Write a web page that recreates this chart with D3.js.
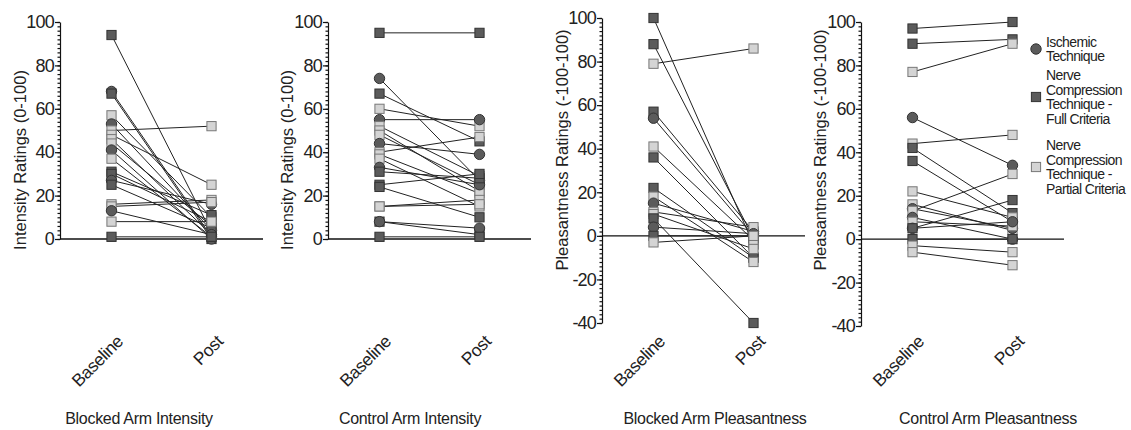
<!DOCTYPE html>
<meta charset="utf-8">
<style>
    body { margin: 0; background: #fff; }
    svg { font-family: "Liberation Sans", Arial, sans-serif; }
    .axis path, .axis line { fill: none; stroke: #111; stroke-width: 1.2; }
    .axis text { font-size: 18px; fill: #222; letter-spacing: -0.8px; }
    .pair { fill: none; stroke: #222; stroke-width: 1; }
</style>
<body>
<script src="https://d3js.org/d3.v7.min.js"></script>
<script>

    // timepoints and groups
    var timepoints = ["Baseline", "Post"];
    var groupNames = ["Ischemic Technique", "Nerve Compression Technique - Full Criteria", "Nerve Compression Technique - Partial Criteria"];

    // I = ischemic, F = full criteria, P = partial criteria
    var blockedIntensityGroup    = ["F","I","F","P","I","P","P","P","P","I","P","F","F","I","F","P","P","I","P","F"];
    var blockedIntensityBaseline = [94, 68, 67, 57, 53, 50, 48, 46, 44, 41, 37, 31, 30, 27, 25, 16, 15, 13, 8, 1];
    var blockedIntensityPost     = [3, 1, 0, 10, 4, 52, 25, 2, 6, 0, 1, 11, 8, 16, 5, 18, 17, 2, 8, 1];

    var controlIntensityGroup    = ["F","I","F","P","I","P","P","P","I","P","P","P","I","F","F","F","P","P","F","I","F"];
    var controlIntensityBaseline = [95, 74, 67, 60, 55, 52, 50, 48, 44, 40, 39, 37, 33, 31, 25, 24, 15, 15, 8, 8, 1];
    var controlIntensityPost     = [95, 27, 45, 52, 55, 29, 22, 25, 39, 47, 21, 15, 25, 28, 30, 10, 18, 16, 2, 5, 1];

    var blockedPleasGroup    = ["F","F","P","F","I","P","F","F","P","I","P","P","F","I","F","P"];
    var blockedPleasBaseline = [100, 88, 79, 57, 54, 41, 36, 22, 18, 15, 11, 10, 8, 4, 0, -3];
    var blockedPleasPost     = [-4, -1, 86, 2, 0, -2, -10, -10, -12, 2, 4, -6, -40, 1, 0, 0];

    var controlPleasGroup    = ["F","F","P","I","P","F","F","P","P","I","P","I","P","I","F","F","P","P"];
    var controlPleasBaseline = [97, 90, 77, 56, 44, 42, 36, 22, 16, 14, 13, 10, 8, 5, 5, 0, -3, -6];
    var controlPleasPost     = [100, 92, 90, 34, 48, 12, 8, 10, 4, 5, 30, 0, 6, 8, 18, 0, -6, -12];

    var intensityTicks = [0, 20, 40, 60, 80, 100];
    var pleasTicks = [-40, -20, 0, 20, 40, 60, 80, 100];

    var panels = [
        {title: "Blocked Arm Intensity", ylabel: "Intensity Ratings (0-100)", group: blockedIntensityGroup,
         base: blockedIntensityBaseline, post: blockedIntensityPost, ticks: intensityTicks,
         ax: 60, yRange: [239, 22], labelX: 20, labelY: 160, titleX: 139},
        {title: "Control Arm Intensity", ylabel: "Intensity Ratings (0-100)", group: controlIntensityGroup,
         base: controlIntensityBaseline, post: controlIntensityPost, ticks: intensityTicks,
         ax: 328, yRange: [239, 22], labelX: 287, labelY: 160, titleX: 410},
        {title: "Blocked Arm Pleasantness", ylabel: "Pleasantness Ratings (-100-100)", group: blockedPleasGroup,
         base: blockedPleasBaseline, post: blockedPleasPost, ticks: pleasTicks,
         ax: 602, yRange: [323, 18], labelX: 562, labelY: 150, titleX: 715},
        {title: "Control Arm Pleasantness", ylabel: "Pleasantness Ratings (-100-100)", group: controlPleasGroup,
         base: controlPleasBaseline, post: controlPleasPost, ticks: pleasTicks,
         ax: 861, yRange: [326, 22], labelX: 820, labelY: 150, titleX: 988}
    ];

    var width = 1131, height = 430, axisLen = 203;
    var fills = {I: "#5b5b5b", F: "#5b5b5b", P: "#d4d4d4"};
    var strokes = {I: "#333", F: "#333", P: "#777"};

    var svg = d3.select("body").append("svg")
        .attr("width", width)
        .attr("height", height);

    function drawMarker(sel, g, cx, cy) {
        if (g === "I") {
            sel.append("circle").attr("cx", cx).attr("cy", cy).attr("r", 5.2)
                .attr("fill", fills[g]).attr("stroke", strokes[g]).attr("stroke-width", 1);
        } else {
            sel.append("rect").attr("x", cx - 4.6).attr("y", cy - 4.6).attr("width", 9.2).attr("height", 9.2)
                .attr("fill", fills[g]).attr("stroke", strokes[g]).attr("stroke-width", 1);
        }
    }

    panels.forEach(function(p) {
        var g = svg.append("g");
        var lo = p.ticks[0], hi = p.ticks[p.ticks.length - 1];

        var y = d3.scaleLinear().domain([lo, hi]).range(p.yRange);
        var x = d3.scalePoint().domain(timepoints).range([p.ax, p.ax + axisLen]).padding(0.515);

        // minor ticks every 2
        g.append("g").attr("class", "axis")
            .attr("transform", "translate(" + p.ax + ",0)")
            .call(d3.axisLeft(y).tickValues(d3.range(lo, hi + 1, 2)).tickSize(2.5).tickFormat(""))
            .select(".domain").remove();

        g.append("g").attr("class", "axis")
            .attr("transform", "translate(" + p.ax + ",0)")
            .call(d3.axisLeft(y).tickValues(p.ticks).tickSizeInner(5).tickSizeOuter(0).tickPadding(1)
                .tickFormat(function(d) { return String(d); }));

        // zero line
        g.append("line")
            .attr("x1", p.ax).attr("x2", p.ax + axisLen)
            .attr("y1", y(0)).attr("y2", y(0))
            .attr("stroke", "#111").attr("stroke-width", 1.3);

        // x tick labels
        timepoints.forEach(function(t) {
            g.append("text")
                .attr("transform", "translate(" + (x(t) + 4) + ",334) rotate(-45)")
                .attr("text-anchor", "end")
                .attr("dy", "0.7em")
                .style("font-size", "17.5px").style("fill", "#222").style("letter-spacing", "-0.4px")
                .text(t);
        });

        // y label
        g.append("text")
            .attr("transform", "translate(" + p.labelX + "," + p.labelY + ") rotate(-90)")
            .attr("text-anchor", "middle")
            .attr("dy", "0.35em")
            .style("font-size", "16.5px").style("fill", "#222")
            .text(p.ylabel);

        // title
        g.append("text")
            .attr("x", p.titleX).attr("y", 424)
            .attr("text-anchor", "middle")
            .style("font-size", "16px").style("fill", "#222").style("letter-spacing", "-0.3px")
            .text(p.title);

        // pair lines
        p.base.forEach(function(b, i) {
            g.append("line").attr("class", "pair")
                .attr("x1", x(timepoints[0])).attr("y1", y(b))
                .attr("x2", x(timepoints[1])).attr("y2", y(p.post[i]));
        });

        // markers
        var m = g.append("g");
        p.base.forEach(function(b, i) { drawMarker(m, p.group[i], x(timepoints[0]), y(b)); });
        p.post.forEach(function(v, i) { drawMarker(m, p.group[i], x(timepoints[1]), y(v)); });
    });

    // legend
    var legendLines = [
        ["Ischemic", "Technique"],
        ["Nerve", "Compression", "Technique -", "Full Criteria"],
        ["Nerve", "Compression", "Technique -", "Partial Criteria"]
    ];
    var legendKeys = ["I", "F", "P"];
    var legendY = [49, 97, 167];
    var leg = svg.append("g").attr("aria-label", groupNames.join(", "));
    legendKeys.forEach(function(k, i) {
        drawMarker(leg, k, 1036, legendY[i]);
        var n = legendLines[i].length;
        var t = leg.append("text")
            .attr("x", 1046).attr("y", legendY[i] - (n - 1) * 14.5 / 2)
            .style("font-size", "14px").style("fill", "#222").style("letter-spacing", "-0.6px");
        legendLines[i].forEach(function(line, j) {
            t.append("tspan").attr("x", 1046).attr("dy", j === 0 ? "0.35em" : 14.5).text(line);
        });
    });

</script>
